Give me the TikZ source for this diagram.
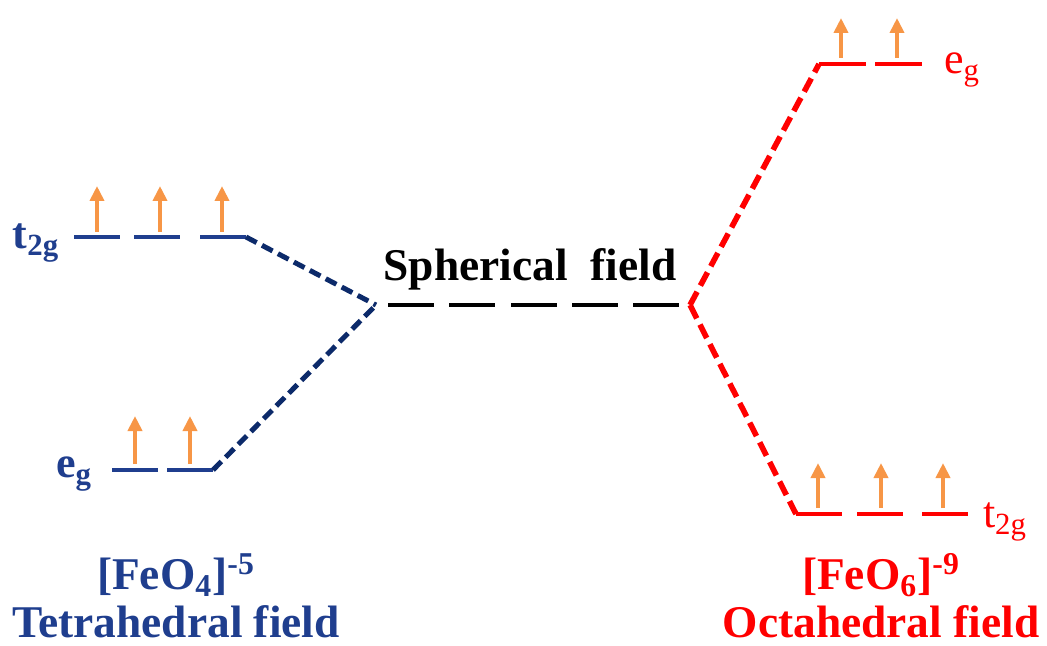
\documentclass[tikz,border=0pt]{standalone}
\usepackage{fontspec}
\setmainfont{Liberation Serif}
\usepackage{tikz}
\usetikzlibrary{arrows.meta}
\definecolor{tetra}{HTML}{1F3E8E}
\definecolor{navy}{HTML}{0C2A6A}
\definecolor{octa}{HTML}{FF0000}
\definecolor{spin}{HTML}{F79646}

\begin{document}
\begin{tikzpicture}[
  x=0.5pt, y=-0.5pt,
  lvl/.style={line width=2.4pt},
  link/.style={line width=2.5pt, dash pattern=on 6pt off 3pt},
  up/.style={-{Triangle[width=7pt, length=7.5pt]}, line width=2.2pt, spin},
  big/.style={font=\fontsize{22.7}{24}\selectfont\bfseries, align=center, inner sep=0pt},
  tag/.style={font=\fontsize{22}{24}\selectfont, inner sep=0pt}
]
  \useasboundingbox (0,0) rectangle (1047,646);

  % Levels
  \foreach \x in {74,134,200} \draw[lvl, tetra] (\x,237) -- ++(46,0);
  \foreach \x in {112,167} \draw[lvl, tetra] (\x,470) -- ++(46,0);
  \foreach \x in {388,449,511,572,633} \draw[lvl, black] (\x,305) -- ++(46,0);
  \foreach \x in {819,875} \draw[lvl, octa] (\x,64) -- ++(47,0);
  \foreach \x in {796,857,922} \draw[lvl, octa] (\x,514) -- ++(46,0);

  % Electrons
  \foreach \x in {97,160,222} \draw[up] (\x,232) -- ++(0,-46);
  \foreach \x in {135,190} \draw[up] (\x,464) -- ++(0,-48);
  \foreach \x in {841,897} \draw[up] (\x,58) -- ++(0,-40);
  \foreach \x in {818,881,943} \draw[up] (\x,508) -- ++(0,-45);

  % Level ends
  \coordinate (tdT) at (246,237);
  \coordinate (tdE) at (213,470);
  \coordinate (sphL) at (376,305);
  \coordinate (sphR) at (690,305);
  \coordinate (ohE) at (819,64);
  \coordinate (ohT) at (796,514);

  % Connectors
  \draw[link, navy] (tdT) -- (sphL);
  \draw[link, navy] (tdE) -- (sphL);
  \draw[link, octa, line width=2.8pt, dash pattern=on 7.5pt off 3.5pt] (sphR) -- (ohE);
  \draw[link, octa, line width=2.8pt, dash pattern=on 7.5pt off 3.5pt] (sphR) -- (ohT);

  % Labels
  \node[tag, tetra, font=\fontsize{22}{24}\selectfont\bfseries] (tdTl) at (36,243) {t\textsubscript{2g}};
  \node[tag, tetra, font=\fontsize{22}{24}\selectfont\bfseries] (tdEl) at (74,474) {e\textsubscript{g}};
  \node[tag, octa] (ohEl) at (962,70) {e\textsubscript{g}};
  \node[tag, octa] (ohTl) at (1005,522) {t\textsubscript{2g}};
  \node[big, black] (sph) at (530,269) {Spherical\ \ field};

  \node[big, tetra] (tetraName) at (176,596) {[FeO\textsubscript{4}]\textsuperscript{-5}\\Tetrahedral field};
  \node[big, octa] (octaName) at (881,596) {[FeO\textsubscript{6}]\textsuperscript{-9}\\Octahedral field};
\end{tikzpicture}
\end{document}
